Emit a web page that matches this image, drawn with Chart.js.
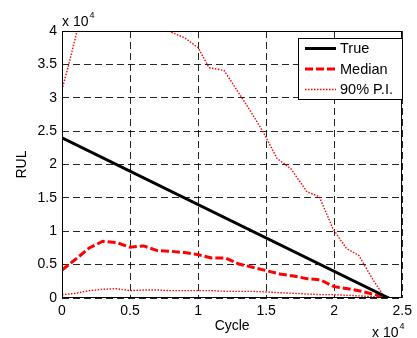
<!DOCTYPE html>
<html>
<head>
<meta charset="utf-8">
<script src="https://cdn.jsdelivr.net/npm/chart.js@4/dist/chart.umd.min.js"></script>
<style>
html,body{margin:0;padding:0;background:#fff;}
canvas{display:block;}
</style>
</head>
<body>
<canvas id="c" width="417" height="338"></canvas>
<script>
// values in units of 10^4 cycles
const trueX = [0, 2.4];
const trueY = [2.4, 0];

const gridX = [0,0.1,0.2,0.3,0.4,0.5,0.6,0.7,0.8,0.9,1.0,1.1,1.2,1.3,1.4,1.5,1.6,1.7,1.8,1.9,2.0,2.1,2.2,2.3,2.4];
const medianY = [0.42,0.58,0.75,0.85,0.83,0.76,0.78,0.71,0.70,0.68,0.65,0.60,0.60,0.51,0.46,0.41,0.36,0.33,0.29,0.27,0.17,0.14,0.10,0.05,0.00];
const lowerY = [0.05,0.07,0.11,0.13,0.14,0.11,0.12,0.12,0.11,0.11,0.11,0.11,0.10,0.10,0.10,0.09,0.08,0.07,0.06,0.05,0.05,0.04,0.03,0.02,0.00];

const upperX = [0,0.05,0.11,0.2,0.3,0.4,0.5,0.6,0.7,0.78,0.9,1.0,1.08,1.19,1.29,1.4,1.48,1.58,1.68,1.8,1.89,1.99,2.09,2.18,2.28,2.36,2.4];
const upperY = [3.12,3.5,4.0,4.3,4.5,4.55,4.5,4.4,4.2,4.0,3.9,3.75,3.45,3.41,3.1,2.75,2.48,2.09,1.94,1.59,1.52,1.04,0.74,0.64,0.29,0.04,0.00];

const xTicks = [0,0.5,1,1.5,2,2.5];
const yTicks = [0,0.5,1,1.5,2,2.5,3,3.5,4];
const legendLabels = ['True','Median','90% P.I.'];

const pts = (xs, ys) => xs.map((x, i) => ({x: x, y: ys[i]}));
const FONT = 'Liberation Sans, Arial, sans-serif';
const RED = '#ff0000';

const frameAndLegend = {
  id: 'frameAndLegend',
  afterDatasetsDraw(chart) {
    const {ctx, chartArea: a} = chart;
    ctx.save();
    // axes box
    ctx.strokeStyle = '#000';
    ctx.lineWidth = 1;
    ctx.setLineDash([]);
    ctx.strokeRect(Math.round(a.left) + 0.5, Math.round(a.top) + 0.5,
                   Math.round(a.right - a.left) - 1, Math.round(a.bottom - a.top) - 1);
    // exponent labels
    ctx.fillStyle = '#000';
    ctx.textBaseline = 'alphabetic';
    ctx.textAlign = 'left';
    ctx.font = '14px ' + FONT;
    ctx.fillText('x 10', a.left, 26);
    let w = ctx.measureText('x 10').width;
    ctx.font = '9px ' + FONT;
    ctx.fillText('4', a.left + w + 1, 18);
    ctx.font = '14px ' + FONT;
    ctx.fillText('x 10', 372, 337);
    w = ctx.measureText('x 10').width;
    ctx.font = '9px ' + FONT;
    ctx.fillText('4', 372 + w + 1, 329);

    // legend
    const bx = 298.5, by = 38.5, bw = 104, bh = 61;
    ctx.fillStyle = '#fff';
    ctx.fillRect(bx, by, bw, bh);
    ctx.strokeStyle = '#000';
    ctx.lineWidth = 1;
    ctx.strokeRect(bx, by, bw, bh);
    const ds = chart.data.datasets;
    const rows = [48.5, 69, 89.5];
    [0, 1, 2].forEach((di, r) => {
      const d = ds[di];
      const y = rows[r];
      ctx.save();
      ctx.strokeStyle = d.borderColor;
      ctx.lineWidth = d.borderWidth;
      ctx.setLineDash(d.borderDash || []);
      ctx.beginPath();
      ctx.moveTo(305, y);
      ctx.lineTo(336, y);
      ctx.stroke();
      ctx.restore();
      ctx.fillStyle = '#000';
      ctx.font = '14.5px ' + FONT;
      ctx.textBaseline = 'middle';
      ctx.fillText(legendLabels[r], 340, y + 0.5);
    });
    ctx.restore();
  }
};

new Chart(document.getElementById('c'), {
  type: 'line',
  data: {
    datasets: [
      {label: legendLabels[0], data: pts(trueX, trueY), borderColor: '#000', borderWidth: 3, pointRadius: 0, tension: 0, order: 1},
      {label: legendLabels[1], data: pts(gridX, medianY), borderColor: RED, borderWidth: 3, borderDash: [8, 3], pointRadius: 0, tension: 0, order: 2},
      {label: legendLabels[2], data: pts(upperX, upperY), borderColor: RED, borderWidth: 1.4, borderDash: [1.5, 1.5], pointRadius: 0, tension: 0, order: 3},
      {label: legendLabels[2] + ' lower', data: pts(gridX, lowerY), borderColor: RED, borderWidth: 1.4, borderDash: [1.5, 1.5], pointRadius: 0, tension: 0, order: 3}
    ]
  },
  options: {
    responsive: false,
    animation: false,
    devicePixelRatio: 1,
    layout: {padding: {left: 0, right: 10, top: 31, bottom: 0}},
    plugins: {legend: {display: false}, tooltip: {enabled: false}},
    scales: {
      x: {
        type: 'linear', min: 0, max: 2.5,
        afterFit: s => { s.height = 40; },
        afterBuildTicks: s => { s.ticks = xTicks.map(v => ({value: v})); },
        ticks: {padding: 5, color: '#000', font: {family: FONT, size: 14}, maxRotation: 0,
                callback: v => String(+v.toFixed(1))},
        grid: {color: 'rgba(0,0,0,0.85)', lineWidth: 1, drawTicks: false},
        border: {display: false, dash: [7, 4]},
        title: {display: true, text: 'Cycle', color: '#000', font: {family: FONT, size: 14}, padding: {top: 0, bottom: 3}}
      },
      y: {
        type: 'linear', min: 0, max: 4,
        afterFit: s => { s.width = 62; },
        afterBuildTicks: s => { s.ticks = yTicks.map(v => ({value: v})); },
        ticks: {padding: 5, color: '#000', font: {family: FONT, size: 14},
                callback: v => String(+v.toFixed(1))},
        grid: {color: 'rgba(0,0,0,0.85)', lineWidth: 1, drawTicks: false},
        border: {display: false, dash: [7, 4]},
        title: {display: true, text: 'RUL', color: '#000', font: {family: FONT, size: 14}, padding: {top: 14, bottom: 0}}
      }
    }
  },
  plugins: [frameAndLegend]
});
</script>
</body>
</html>
